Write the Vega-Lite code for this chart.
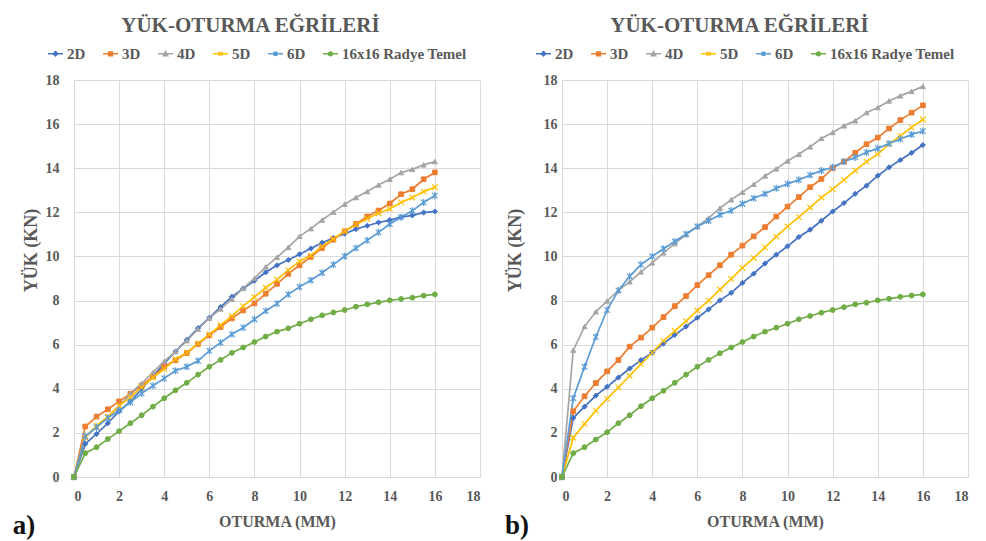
{
  "$schema": "https://vega.github.io/schema/vega-lite/v6.json",
  "background": "white",
  "padding": {"left": 12, "top": 15, "right": 5, "bottom": 0},
  "config": {
    "font": "Liberation Serif",
    "view": {"stroke": null},
    "axis": {
      "domainColor": "#d9d9d9",
      "gridColor": "#d9d9d9",
      "gridWidth": 1,
      "ticks": false,
      "labelFont": "Liberation Serif",
      "labelFontSize": 14,
      "labelFontWeight": "bold",
      "labelColor": "#595959",
      "titleFont": "Liberation Serif",
      "titleFontSize": 16,
      "titleFontWeight": "bold",
      "titleColor": "#595959"
    },
    "legend": {"labelFont": "Liberation Serif"},
    "title": {
      "font": "Liberation Serif",
      "fontSize": 21,
      "fontWeight": "bold",
      "color": "#595959",
      "anchor": "middle",
      "frame": "bounds",
      "offset": 9
    }
  },
  "data": {"values": [
    {"p":"a","s":"2D","x":0,"y":0},{"p":"a","s":"2D","x":0.5,"y":1.5},{"p":"a","s":"2D","x":1,"y":1.95},{"p":"a","s":"2D","x":1.5,"y":2.44},{"p":"a","s":"2D","x":2,"y":2.98},{"p":"a","s":"2D","x":2.5,"y":3.43},{"p":"a","s":"2D","x":3,"y":3.99},{"p":"a","s":"2D","x":3.5,"y":4.56},{"p":"a","s":"2D","x":4,"y":5.15},{"p":"a","s":"2D","x":4.5,"y":5.69},{"p":"a","s":"2D","x":5,"y":6.22},{"p":"a","s":"2D","x":5.5,"y":6.75},{"p":"a","s":"2D","x":6,"y":7.22},{"p":"a","s":"2D","x":6.5,"y":7.71},{"p":"a","s":"2D","x":7,"y":8.17},{"p":"a","s":"2D","x":7.5,"y":8.55},{"p":"a","s":"2D","x":8,"y":8.9},{"p":"a","s":"2D","x":8.5,"y":9.28},{"p":"a","s":"2D","x":9,"y":9.6},{"p":"a","s":"2D","x":9.5,"y":9.84},{"p":"a","s":"2D","x":10,"y":10.1},{"p":"a","s":"2D","x":10.5,"y":10.36},{"p":"a","s":"2D","x":11,"y":10.62},{"p":"a","s":"2D","x":11.5,"y":10.84},{"p":"a","s":"2D","x":12,"y":11.03},{"p":"a","s":"2D","x":12.5,"y":11.24},{"p":"a","s":"2D","x":13,"y":11.39},{"p":"a","s":"2D","x":13.5,"y":11.54},{"p":"a","s":"2D","x":14,"y":11.65},{"p":"a","s":"2D","x":14.5,"y":11.78},{"p":"a","s":"2D","x":15,"y":11.86},{"p":"a","s":"2D","x":15.5,"y":11.99},{"p":"a","s":"2D","x":16,"y":12.04},
    {"p":"a","s":"3D","x":0,"y":0},{"p":"a","s":"3D","x":0.5,"y":2.29},{"p":"a","s":"3D","x":1,"y":2.74},{"p":"a","s":"3D","x":1.5,"y":3.07},{"p":"a","s":"3D","x":2,"y":3.43},{"p":"a","s":"3D","x":2.5,"y":3.78},{"p":"a","s":"3D","x":3,"y":4.15},{"p":"a","s":"3D","x":3.5,"y":4.55},{"p":"a","s":"3D","x":4,"y":5.0},{"p":"a","s":"3D","x":4.5,"y":5.29},{"p":"a","s":"3D","x":5,"y":5.62},{"p":"a","s":"3D","x":5.5,"y":6.03},{"p":"a","s":"3D","x":6,"y":6.42},{"p":"a","s":"3D","x":6.5,"y":6.8},{"p":"a","s":"3D","x":7,"y":7.19},{"p":"a","s":"3D","x":7.5,"y":7.55},{"p":"a","s":"3D","x":8,"y":7.87},{"p":"a","s":"3D","x":8.5,"y":8.31},{"p":"a","s":"3D","x":9,"y":8.76},{"p":"a","s":"3D","x":9.5,"y":9.21},{"p":"a","s":"3D","x":10,"y":9.6},{"p":"a","s":"3D","x":10.5,"y":9.98},{"p":"a","s":"3D","x":11,"y":10.38},{"p":"a","s":"3D","x":11.5,"y":10.76},{"p":"a","s":"3D","x":12,"y":11.14},{"p":"a","s":"3D","x":12.5,"y":11.47},{"p":"a","s":"3D","x":13,"y":11.81},{"p":"a","s":"3D","x":13.5,"y":12.08},{"p":"a","s":"3D","x":14,"y":12.4},{"p":"a","s":"3D","x":14.5,"y":12.82},{"p":"a","s":"3D","x":15,"y":13.05},{"p":"a","s":"3D","x":15.5,"y":13.5},{"p":"a","s":"3D","x":16,"y":13.81},
    {"p":"a","s":"4D","x":0,"y":0},{"p":"a","s":"4D","x":0.5,"y":1.81},{"p":"a","s":"4D","x":1,"y":2.26},{"p":"a","s":"4D","x":1.5,"y":2.68},{"p":"a","s":"4D","x":2,"y":3.19},{"p":"a","s":"4D","x":2.5,"y":3.79},{"p":"a","s":"4D","x":3,"y":4.24},{"p":"a","s":"4D","x":3.5,"y":4.74},{"p":"a","s":"4D","x":4,"y":5.24},{"p":"a","s":"4D","x":4.5,"y":5.69},{"p":"a","s":"4D","x":5,"y":6.18},{"p":"a","s":"4D","x":5.5,"y":6.7},{"p":"a","s":"4D","x":6,"y":7.2},{"p":"a","s":"4D","x":6.5,"y":7.62},{"p":"a","s":"4D","x":7,"y":8.06},{"p":"a","s":"4D","x":7.5,"y":8.55},{"p":"a","s":"4D","x":8,"y":9.0},{"p":"a","s":"4D","x":8.5,"y":9.53},{"p":"a","s":"4D","x":9,"y":9.96},{"p":"a","s":"4D","x":9.5,"y":10.41},{"p":"a","s":"4D","x":10,"y":10.91},{"p":"a","s":"4D","x":10.5,"y":11.26},{"p":"a","s":"4D","x":11,"y":11.65},{"p":"a","s":"4D","x":11.5,"y":12.01},{"p":"a","s":"4D","x":12,"y":12.37},{"p":"a","s":"4D","x":12.5,"y":12.67},{"p":"a","s":"4D","x":13,"y":12.94},{"p":"a","s":"4D","x":13.5,"y":13.24},{"p":"a","s":"4D","x":14,"y":13.5},{"p":"a","s":"4D","x":14.5,"y":13.8},{"p":"a","s":"4D","x":15,"y":13.95},{"p":"a","s":"4D","x":15.5,"y":14.15},{"p":"a","s":"4D","x":16,"y":14.3},
    {"p":"a","s":"5D","x":0,"y":0},{"p":"a","s":"5D","x":0.5,"y":1.8},{"p":"a","s":"5D","x":1,"y":2.33},{"p":"a","s":"5D","x":1.5,"y":2.74},{"p":"a","s":"5D","x":2,"y":3.24},{"p":"a","s":"5D","x":2.5,"y":3.61},{"p":"a","s":"5D","x":3,"y":4.06},{"p":"a","s":"5D","x":3.5,"y":4.51},{"p":"a","s":"5D","x":4,"y":4.89},{"p":"a","s":"5D","x":4.5,"y":5.34},{"p":"a","s":"5D","x":5,"y":5.64},{"p":"a","s":"5D","x":5.5,"y":6.06},{"p":"a","s":"5D","x":6,"y":6.47},{"p":"a","s":"5D","x":6.5,"y":6.89},{"p":"a","s":"5D","x":7,"y":7.3},{"p":"a","s":"5D","x":7.5,"y":7.75},{"p":"a","s":"5D","x":8,"y":8.16},{"p":"a","s":"5D","x":8.5,"y":8.58},{"p":"a","s":"5D","x":9,"y":8.95},{"p":"a","s":"5D","x":9.5,"y":9.38},{"p":"a","s":"5D","x":10,"y":9.78},{"p":"a","s":"5D","x":10.5,"y":10.05},{"p":"a","s":"5D","x":11,"y":10.46},{"p":"a","s":"5D","x":11.5,"y":10.8},{"p":"a","s":"5D","x":12,"y":11.14},{"p":"a","s":"5D","x":12.5,"y":11.44},{"p":"a","s":"5D","x":13,"y":11.71},{"p":"a","s":"5D","x":13.5,"y":11.96},{"p":"a","s":"5D","x":14,"y":12.16},{"p":"a","s":"5D","x":14.5,"y":12.45},{"p":"a","s":"5D","x":15,"y":12.67},{"p":"a","s":"5D","x":15.5,"y":12.94},{"p":"a","s":"5D","x":16,"y":13.14},
    {"p":"a","s":"6D","x":0,"y":0},{"p":"a","s":"6D","x":0.5,"y":1.84},{"p":"a","s":"6D","x":1,"y":2.26},{"p":"a","s":"6D","x":1.5,"y":2.68},{"p":"a","s":"6D","x":2,"y":3.01},{"p":"a","s":"6D","x":2.5,"y":3.39},{"p":"a","s":"6D","x":3,"y":3.79},{"p":"a","s":"6D","x":3.5,"y":4.14},{"p":"a","s":"6D","x":4,"y":4.47},{"p":"a","s":"6D","x":4.5,"y":4.82},{"p":"a","s":"6D","x":5,"y":5.0},{"p":"a","s":"6D","x":5.5,"y":5.27},{"p":"a","s":"6D","x":6,"y":5.72},{"p":"a","s":"6D","x":6.5,"y":6.09},{"p":"a","s":"6D","x":7,"y":6.47},{"p":"a","s":"6D","x":7.5,"y":6.77},{"p":"a","s":"6D","x":8,"y":7.15},{"p":"a","s":"6D","x":8.5,"y":7.53},{"p":"a","s":"6D","x":9,"y":7.86},{"p":"a","s":"6D","x":9.5,"y":8.28},{"p":"a","s":"6D","x":10,"y":8.62},{"p":"a","s":"6D","x":10.5,"y":8.92},{"p":"a","s":"6D","x":11,"y":9.26},{"p":"a","s":"6D","x":11.5,"y":9.63},{"p":"a","s":"6D","x":12,"y":10.01},{"p":"a","s":"6D","x":12.5,"y":10.38},{"p":"a","s":"6D","x":13,"y":10.73},{"p":"a","s":"6D","x":13.5,"y":11.09},{"p":"a","s":"6D","x":14,"y":11.47},{"p":"a","s":"6D","x":14.5,"y":11.78},{"p":"a","s":"6D","x":15,"y":12.07},{"p":"a","s":"6D","x":15.5,"y":12.45},{"p":"a","s":"6D","x":16,"y":12.76},
    {"p":"a","s":"16x16 Radye Temel","x":0,"y":0},{"p":"a","s":"16x16 Radye Temel","x":0.5,"y":1.08},{"p":"a","s":"16x16 Radye Temel","x":1,"y":1.35},{"p":"a","s":"16x16 Radye Temel","x":1.5,"y":1.72},{"p":"a","s":"16x16 Radye Temel","x":2,"y":2.08},{"p":"a","s":"16x16 Radye Temel","x":2.5,"y":2.44},{"p":"a","s":"16x16 Radye Temel","x":3,"y":2.8},{"p":"a","s":"16x16 Radye Temel","x":3.5,"y":3.19},{"p":"a","s":"16x16 Radye Temel","x":4,"y":3.57},{"p":"a","s":"16x16 Radye Temel","x":4.5,"y":3.93},{"p":"a","s":"16x16 Radye Temel","x":5,"y":4.27},{"p":"a","s":"16x16 Radye Temel","x":5.5,"y":4.64},{"p":"a","s":"16x16 Radye Temel","x":6,"y":5.0},{"p":"a","s":"16x16 Radye Temel","x":6.5,"y":5.31},{"p":"a","s":"16x16 Radye Temel","x":7,"y":5.63},{"p":"a","s":"16x16 Radye Temel","x":7.5,"y":5.87},{"p":"a","s":"16x16 Radye Temel","x":8,"y":6.12},{"p":"a","s":"16x16 Radye Temel","x":8.5,"y":6.37},{"p":"a","s":"16x16 Radye Temel","x":9,"y":6.59},{"p":"a","s":"16x16 Radye Temel","x":9.5,"y":6.74},{"p":"a","s":"16x16 Radye Temel","x":10,"y":6.95},{"p":"a","s":"16x16 Radye Temel","x":10.5,"y":7.15},{"p":"a","s":"16x16 Radye Temel","x":11,"y":7.33},{"p":"a","s":"16x16 Radye Temel","x":11.5,"y":7.46},{"p":"a","s":"16x16 Radye Temel","x":12,"y":7.57},{"p":"a","s":"16x16 Radye Temel","x":12.5,"y":7.72},{"p":"a","s":"16x16 Radye Temel","x":13,"y":7.83},{"p":"a","s":"16x16 Radye Temel","x":13.5,"y":7.92},{"p":"a","s":"16x16 Radye Temel","x":14,"y":8.01},{"p":"a","s":"16x16 Radye Temel","x":14.5,"y":8.07},{"p":"a","s":"16x16 Radye Temel","x":15,"y":8.13},{"p":"a","s":"16x16 Radye Temel","x":15.5,"y":8.22},{"p":"a","s":"16x16 Radye Temel","x":16,"y":8.28},
    {"p":"b","s":"2D","x":0,"y":0},{"p":"b","s":"2D","x":0.5,"y":2.68},{"p":"b","s":"2D","x":1,"y":3.19},{"p":"b","s":"2D","x":1.5,"y":3.69},{"p":"b","s":"2D","x":2,"y":4.09},{"p":"b","s":"2D","x":2.5,"y":4.51},{"p":"b","s":"2D","x":3,"y":4.92},{"p":"b","s":"2D","x":3.5,"y":5.3},{"p":"b","s":"2D","x":4,"y":5.64},{"p":"b","s":"2D","x":4.5,"y":6.05},{"p":"b","s":"2D","x":5,"y":6.44},{"p":"b","s":"2D","x":5.5,"y":6.82},{"p":"b","s":"2D","x":6,"y":7.22},{"p":"b","s":"2D","x":6.5,"y":7.6},{"p":"b","s":"2D","x":7,"y":8.01},{"p":"b","s":"2D","x":7.5,"y":8.35},{"p":"b","s":"2D","x":8,"y":8.8},{"p":"b","s":"2D","x":8.5,"y":9.22},{"p":"b","s":"2D","x":9,"y":9.68},{"p":"b","s":"2D","x":9.5,"y":10.08},{"p":"b","s":"2D","x":10,"y":10.46},{"p":"b","s":"2D","x":10.5,"y":10.88},{"p":"b","s":"2D","x":11,"y":11.21},{"p":"b","s":"2D","x":11.5,"y":11.62},{"p":"b","s":"2D","x":12,"y":12.04},{"p":"b","s":"2D","x":12.5,"y":12.42},{"p":"b","s":"2D","x":13,"y":12.84},{"p":"b","s":"2D","x":13.5,"y":13.21},{"p":"b","s":"2D","x":14,"y":13.66},{"p":"b","s":"2D","x":14.5,"y":14.04},{"p":"b","s":"2D","x":15,"y":14.37},{"p":"b","s":"2D","x":15.5,"y":14.7},{"p":"b","s":"2D","x":16,"y":15.05},
    {"p":"b","s":"3D","x":0,"y":0},{"p":"b","s":"3D","x":0.5,"y":2.98},{"p":"b","s":"3D","x":1,"y":3.66},{"p":"b","s":"3D","x":1.5,"y":4.26},{"p":"b","s":"3D","x":2,"y":4.79},{"p":"b","s":"3D","x":2.5,"y":5.3},{"p":"b","s":"3D","x":3,"y":5.91},{"p":"b","s":"3D","x":3.5,"y":6.32},{"p":"b","s":"3D","x":4,"y":6.77},{"p":"b","s":"3D","x":4.5,"y":7.25},{"p":"b","s":"3D","x":5,"y":7.75},{"p":"b","s":"3D","x":5.5,"y":8.2},{"p":"b","s":"3D","x":6,"y":8.7},{"p":"b","s":"3D","x":6.5,"y":9.15},{"p":"b","s":"3D","x":7,"y":9.6},{"p":"b","s":"3D","x":7.5,"y":10.08},{"p":"b","s":"3D","x":8,"y":10.49},{"p":"b","s":"3D","x":8.5,"y":10.91},{"p":"b","s":"3D","x":9,"y":11.33},{"p":"b","s":"3D","x":9.5,"y":11.81},{"p":"b","s":"3D","x":10,"y":12.26},{"p":"b","s":"3D","x":10.5,"y":12.69},{"p":"b","s":"3D","x":11,"y":13.14},{"p":"b","s":"3D","x":11.5,"y":13.51},{"p":"b","s":"3D","x":12,"y":14.0},{"p":"b","s":"3D","x":12.5,"y":14.3},{"p":"b","s":"3D","x":13,"y":14.7},{"p":"b","s":"3D","x":13.5,"y":15.09},{"p":"b","s":"3D","x":14,"y":15.39},{"p":"b","s":"3D","x":14.5,"y":15.8},{"p":"b","s":"3D","x":15,"y":16.18},{"p":"b","s":"3D","x":15.5,"y":16.52},{"p":"b","s":"3D","x":16,"y":16.85},
    {"p":"b","s":"4D","x":0,"y":0},{"p":"b","s":"4D","x":0.5,"y":5.75},{"p":"b","s":"4D","x":1,"y":6.82},{"p":"b","s":"4D","x":1.5,"y":7.49},{"p":"b","s":"4D","x":2,"y":7.98},{"p":"b","s":"4D","x":2.5,"y":8.46},{"p":"b","s":"4D","x":3,"y":8.85},{"p":"b","s":"4D","x":3.5,"y":9.3},{"p":"b","s":"4D","x":4,"y":9.71},{"p":"b","s":"4D","x":4.5,"y":10.16},{"p":"b","s":"4D","x":5,"y":10.58},{"p":"b","s":"4D","x":5.5,"y":10.99},{"p":"b","s":"4D","x":6,"y":11.36},{"p":"b","s":"4D","x":6.5,"y":11.74},{"p":"b","s":"4D","x":7,"y":12.19},{"p":"b","s":"4D","x":7.5,"y":12.57},{"p":"b","s":"4D","x":8,"y":12.91},{"p":"b","s":"4D","x":8.5,"y":13.27},{"p":"b","s":"4D","x":9,"y":13.65},{"p":"b","s":"4D","x":9.5,"y":13.97},{"p":"b","s":"4D","x":10,"y":14.33},{"p":"b","s":"4D","x":10.5,"y":14.63},{"p":"b","s":"4D","x":11,"y":14.97},{"p":"b","s":"4D","x":11.5,"y":15.35},{"p":"b","s":"4D","x":12,"y":15.62},{"p":"b","s":"4D","x":12.5,"y":15.92},{"p":"b","s":"4D","x":13,"y":16.15},{"p":"b","s":"4D","x":13.5,"y":16.52},{"p":"b","s":"4D","x":14,"y":16.75},{"p":"b","s":"4D","x":14.5,"y":17.05},{"p":"b","s":"4D","x":15,"y":17.28},{"p":"b","s":"4D","x":15.5,"y":17.49},{"p":"b","s":"4D","x":16,"y":17.71},
    {"p":"b","s":"5D","x":0,"y":0},{"p":"b","s":"5D","x":0.5,"y":1.78},{"p":"b","s":"5D","x":1,"y":2.41},{"p":"b","s":"5D","x":1.5,"y":3.01},{"p":"b","s":"5D","x":2,"y":3.54},{"p":"b","s":"5D","x":2.5,"y":4.06},{"p":"b","s":"5D","x":3,"y":4.59},{"p":"b","s":"5D","x":3.5,"y":5.12},{"p":"b","s":"5D","x":4,"y":5.64},{"p":"b","s":"5D","x":4.5,"y":6.17},{"p":"b","s":"5D","x":5,"y":6.62},{"p":"b","s":"5D","x":5.5,"y":7.07},{"p":"b","s":"5D","x":6,"y":7.55},{"p":"b","s":"5D","x":6.5,"y":8.0},{"p":"b","s":"5D","x":7,"y":8.5},{"p":"b","s":"5D","x":7.5,"y":8.98},{"p":"b","s":"5D","x":8,"y":9.48},{"p":"b","s":"5D","x":8.5,"y":9.93},{"p":"b","s":"5D","x":9,"y":10.41},{"p":"b","s":"5D","x":9.5,"y":10.9},{"p":"b","s":"5D","x":10,"y":11.36},{"p":"b","s":"5D","x":10.5,"y":11.78},{"p":"b","s":"5D","x":11,"y":12.22},{"p":"b","s":"5D","x":11.5,"y":12.67},{"p":"b","s":"5D","x":12,"y":13.05},{"p":"b","s":"5D","x":12.5,"y":13.47},{"p":"b","s":"5D","x":13,"y":13.89},{"p":"b","s":"5D","x":13.5,"y":14.3},{"p":"b","s":"5D","x":14,"y":14.64},{"p":"b","s":"5D","x":14.5,"y":15.09},{"p":"b","s":"5D","x":15,"y":15.47},{"p":"b","s":"5D","x":15.5,"y":15.85},{"p":"b","s":"5D","x":16,"y":16.21},
    {"p":"b","s":"6D","x":0,"y":0},{"p":"b","s":"6D","x":0.5,"y":3.57},{"p":"b","s":"6D","x":1,"y":5.0},{"p":"b","s":"6D","x":1.5,"y":6.35},{"p":"b","s":"6D","x":2,"y":7.57},{"p":"b","s":"6D","x":2.5,"y":8.46},{"p":"b","s":"6D","x":3,"y":9.1},{"p":"b","s":"6D","x":3.5,"y":9.63},{"p":"b","s":"6D","x":4,"y":10.0},{"p":"b","s":"6D","x":4.5,"y":10.35},{"p":"b","s":"6D","x":5,"y":10.68},{"p":"b","s":"6D","x":5.5,"y":11.02},{"p":"b","s":"6D","x":6,"y":11.36},{"p":"b","s":"6D","x":6.5,"y":11.62},{"p":"b","s":"6D","x":7,"y":11.89},{"p":"b","s":"6D","x":7.5,"y":12.08},{"p":"b","s":"6D","x":8,"y":12.39},{"p":"b","s":"6D","x":8.5,"y":12.64},{"p":"b","s":"6D","x":9,"y":12.84},{"p":"b","s":"6D","x":9.5,"y":13.09},{"p":"b","s":"6D","x":10,"y":13.29},{"p":"b","s":"6D","x":10.5,"y":13.47},{"p":"b","s":"6D","x":11,"y":13.69},{"p":"b","s":"6D","x":11.5,"y":13.89},{"p":"b","s":"6D","x":12,"y":14.04},{"p":"b","s":"6D","x":12.5,"y":14.3},{"p":"b","s":"6D","x":13,"y":14.49},{"p":"b","s":"6D","x":13.5,"y":14.72},{"p":"b","s":"6D","x":14,"y":14.9},{"p":"b","s":"6D","x":14.5,"y":15.12},{"p":"b","s":"6D","x":15,"y":15.32},{"p":"b","s":"6D","x":15.5,"y":15.53},{"p":"b","s":"6D","x":16,"y":15.68},
    {"p":"b","s":"16x16 Radye Temel","x":0,"y":0},{"p":"b","s":"16x16 Radye Temel","x":0.5,"y":1.08},{"p":"b","s":"16x16 Radye Temel","x":1,"y":1.35},{"p":"b","s":"16x16 Radye Temel","x":1.5,"y":1.7},{"p":"b","s":"16x16 Radye Temel","x":2,"y":2.03},{"p":"b","s":"16x16 Radye Temel","x":2.5,"y":2.44},{"p":"b","s":"16x16 Radye Temel","x":3,"y":2.8},{"p":"b","s":"16x16 Radye Temel","x":3.5,"y":3.21},{"p":"b","s":"16x16 Radye Temel","x":4,"y":3.57},{"p":"b","s":"16x16 Radye Temel","x":4.5,"y":3.91},{"p":"b","s":"16x16 Radye Temel","x":5,"y":4.27},{"p":"b","s":"16x16 Radye Temel","x":5.5,"y":4.64},{"p":"b","s":"16x16 Radye Temel","x":6,"y":5.0},{"p":"b","s":"16x16 Radye Temel","x":6.5,"y":5.31},{"p":"b","s":"16x16 Radye Temel","x":7,"y":5.61},{"p":"b","s":"16x16 Radye Temel","x":7.5,"y":5.87},{"p":"b","s":"16x16 Radye Temel","x":8,"y":6.12},{"p":"b","s":"16x16 Radye Temel","x":8.5,"y":6.37},{"p":"b","s":"16x16 Radye Temel","x":9,"y":6.59},{"p":"b","s":"16x16 Radye Temel","x":9.5,"y":6.77},{"p":"b","s":"16x16 Radye Temel","x":10,"y":6.95},{"p":"b","s":"16x16 Radye Temel","x":10.5,"y":7.15},{"p":"b","s":"16x16 Radye Temel","x":11,"y":7.3},{"p":"b","s":"16x16 Radye Temel","x":11.5,"y":7.45},{"p":"b","s":"16x16 Radye Temel","x":12,"y":7.57},{"p":"b","s":"16x16 Radye Temel","x":12.5,"y":7.7},{"p":"b","s":"16x16 Radye Temel","x":13,"y":7.83},{"p":"b","s":"16x16 Radye Temel","x":13.5,"y":7.9},{"p":"b","s":"16x16 Radye Temel","x":14,"y":8.01},{"p":"b","s":"16x16 Radye Temel","x":14.5,"y":8.08},{"p":"b","s":"16x16 Radye Temel","x":15,"y":8.17},{"p":"b","s":"16x16 Radye Temel","x":15.5,"y":8.23},{"p":"b","s":"16x16 Radye Temel","x":16,"y":8.28}
  ]},
  "bounds": "flush",
  "spacing": 82,
  "resolve": {"scale": {"color": "independent"}, "legend": {"color": "independent"}},
  "hconcat": [
    {
      "width": 406,
      "height": 397,
      "title": {"text": "YÜK-OTURMA EĞRİLERİ", "dx": 4},
      "layer": [
        {
          "transform": [{"filter": "datum.p === 'a'"}],
          "encoding": {
            "x": {"field": "x", "type": "quantitative", "scale": {"domain": [0, 18], "nice": false}, "axis": {"values": [0,2,4,6,8,10,12,14,16,18], "title": "OTURMA (MM)", "labelPadding": 12, "titleY": 49, "titleBaseline": "alphabetic"}},
            "y": {"field": "y", "type": "quantitative", "scale": {"domain": [0, 18], "nice": false}, "axis": {"values": [0,2,4,6,8,10,12,14,16,18], "title": "YÜK (KN)", "labelPadding": 15, "titleX": -38, "titleY": 170, "titleBaseline": "alphabetic", "titleAngle": -90, "titleFontSize": 18}}
          },
          "layer": [
            {
              "mark": {"type": "line", "strokeWidth": 1.7},
              "encoding": {
                "color": {"field": "s", "type": "nominal", "scale": {"domain": ["2D","3D","4D","5D","6D","16x16 Radye Temel"], "range": ["#4472C4","#ED7D31","#A5A5A5","#FFC000","#5B9BD5","#70AD47"]},
                  "legend": {"orient": "none", "legendX": -27, "legendY": -35, "direction": "horizontal", "title": null, "padding": 0, "symbolType": "stroke", "symbolSize": 225, "symbolStrokeWidth": 1.5, "labelOffset": 3, "columnPadding": 14, "labelFontSize": 15, "labelFontWeight": "bold", "labelColor": "#595959",
                    "encode": {"symbols": {"update": {
                      "shape": {"signal": "datum.value==='2D'?'M-1,0H1M-0.3,0L0,-0.3L0.3,0L0,0.3Z':datum.value==='3D'?'M-1,0H1M-0.25,-0.25H0.25V0.25H-0.25Z':datum.value==='4D'?'M-1,0H1M-0.3,0.25L0,-0.3L0.3,0.25Z':datum.value==='5D'?'M-1,0H1M-0.25,-0.25L0.25,0.25M-0.25,0.25L0.25,-0.25':datum.value==='6D'?'M-1,0H1M-0.25,-0.25L0.25,0.25M-0.25,0.25L0.25,-0.25M0,-0.3V0.3':'M-1,0H1M0.25,0A0.25,0.25,0,1,1,-0.25,0A0.25,0.25,0,1,1,0.25,0Z'"},
                      "fill": {"signal": "datum.value==='2D'?'#4472C4':datum.value==='3D'?'#ED7D31':datum.value==='4D'?'#A5A5A5':datum.value==='5D'?'#FFC000':datum.value==='6D'?'#5B9BD5':'#70AD47'"}
                    }}}
                  }}
              }
            },
            {"transform": [{"filter": "datum.s === '2D'"}], "mark": {"type": "point", "shape": "diamond", "filled": true, "size": 26, "fill": "#4472C4", "stroke": "#4472C4", "strokeWidth": 1, "opacity": 1}},
            {"transform": [{"filter": "datum.s === '3D'"}], "mark": {"type": "point", "shape": "square", "filled": true, "size": 22, "fill": "#ED7D31", "stroke": "#ED7D31", "strokeWidth": 1, "opacity": 1}},
            {"transform": [{"filter": "datum.s === '4D'"}], "mark": {"type": "point", "shape": "triangle-up", "filled": true, "size": 26, "fill": "#A5A5A5", "stroke": "#A5A5A5", "strokeWidth": 1, "opacity": 1}},
            {"transform": [{"filter": "datum.s === '5D'"}], "mark": {"type": "point", "shape": "M-1,-1L1,1M-1,1L1,-1", "filled": false, "size": 30, "stroke": "#FFC000", "strokeWidth": 1.2, "opacity": 1}},
            {"transform": [{"filter": "datum.s === '6D'"}], "mark": {"type": "point", "shape": "M-1,-1L1,1M-1,1L1,-1M0,-1.3L0,1.3", "filled": false, "size": 30, "stroke": "#5B9BD5", "strokeWidth": 1.2, "opacity": 1}},
            {"transform": [{"filter": "datum.s === '16x16 Radye Temel'"}], "mark": {"type": "point", "shape": "circle", "filled": true, "size": 24, "fill": "#70AD47", "stroke": "#70AD47", "strokeWidth": 1, "opacity": 1}}
          ]
        },
        {
          "data": {"values": [{"t": "a)"}]},
          "mark": {"type": "text", "align": "left", "baseline": "alphabetic", "font": "Liberation Serif", "fontSize": 27, "fontWeight": "bold", "color": "#111111"},
          "encoding": {
            "x": {"datum": -2.71, "type": "quantitative", "scale": {"domain": [0, 18], "nice": false}},
            "y": {"datum": -2.6, "type": "quantitative", "scale": {"domain": [0, 18], "nice": false}},
            "text": {"field": "t"}
          }
        }
      ]
    },
    {
      "width": 406,
      "height": 397,
      "title": {"text": "YÜK-OTURMA EĞRİLERİ", "dx": 3},
      "layer": [
        {
          "transform": [{"filter": "datum.p === 'b'"}],
          "encoding": {
            "x": {"field": "x", "type": "quantitative", "scale": {"domain": [0, 18], "nice": false}, "axis": {"values": [0,2,4,6,8,10,12,14,16,18], "title": "OTURMA (MM)", "labelPadding": 12, "titleY": 49, "titleBaseline": "alphabetic"}},
            "y": {"field": "y", "type": "quantitative", "scale": {"domain": [0, 18], "nice": false}, "axis": {"values": [0,2,4,6,8,10,12,14,16,18], "title": "YÜK (KN)", "labelPadding": 5, "titleX": -42, "titleY": 170, "titleBaseline": "alphabetic", "titleAngle": -90, "titleFontSize": 18}}
          },
          "layer": [
            {
              "mark": {"type": "line", "strokeWidth": 1.7},
              "encoding": {
                "color": {"field": "s", "type": "nominal", "scale": {"domain": ["2D","3D","4D","5D","6D","16x16 Radye Temel"], "range": ["#4472C4","#ED7D31","#A5A5A5","#FFC000","#5B9BD5","#70AD47"]},
                  "legend": {"orient": "none", "legendX": -27, "legendY": -35, "direction": "horizontal", "title": null, "padding": 0, "symbolType": "stroke", "symbolSize": 225, "symbolStrokeWidth": 1.5, "labelOffset": 3, "columnPadding": 14, "labelFontSize": 15, "labelFontWeight": "bold", "labelColor": "#595959",
                    "encode": {"symbols": {"update": {
                      "shape": {"signal": "datum.value==='2D'?'M-1,0H1M-0.3,0L0,-0.3L0.3,0L0,0.3Z':datum.value==='3D'?'M-1,0H1M-0.25,-0.25H0.25V0.25H-0.25Z':datum.value==='4D'?'M-1,0H1M-0.3,0.25L0,-0.3L0.3,0.25Z':datum.value==='5D'?'M-1,0H1M-0.25,-0.25L0.25,0.25M-0.25,0.25L0.25,-0.25':datum.value==='6D'?'M-1,0H1M-0.25,-0.25L0.25,0.25M-0.25,0.25L0.25,-0.25M0,-0.3V0.3':'M-1,0H1M0.25,0A0.25,0.25,0,1,1,-0.25,0A0.25,0.25,0,1,1,0.25,0Z'"},
                      "fill": {"signal": "datum.value==='2D'?'#4472C4':datum.value==='3D'?'#ED7D31':datum.value==='4D'?'#A5A5A5':datum.value==='5D'?'#FFC000':datum.value==='6D'?'#5B9BD5':'#70AD47'"}
                    }}}
                  }}
              }
            },
            {"transform": [{"filter": "datum.s === '2D'"}], "mark": {"type": "point", "shape": "diamond", "filled": true, "size": 26, "fill": "#4472C4", "stroke": "#4472C4", "strokeWidth": 1, "opacity": 1}},
            {"transform": [{"filter": "datum.s === '3D'"}], "mark": {"type": "point", "shape": "square", "filled": true, "size": 22, "fill": "#ED7D31", "stroke": "#ED7D31", "strokeWidth": 1, "opacity": 1}},
            {"transform": [{"filter": "datum.s === '4D'"}], "mark": {"type": "point", "shape": "triangle-up", "filled": true, "size": 26, "fill": "#A5A5A5", "stroke": "#A5A5A5", "strokeWidth": 1, "opacity": 1}},
            {"transform": [{"filter": "datum.s === '5D'"}], "mark": {"type": "point", "shape": "M-1,-1L1,1M-1,1L1,-1", "filled": false, "size": 30, "stroke": "#FFC000", "strokeWidth": 1.2, "opacity": 1}},
            {"transform": [{"filter": "datum.s === '6D'"}], "mark": {"type": "point", "shape": "M-1,-1L1,1M-1,1L1,-1M0,-1.3L0,1.3", "filled": false, "size": 30, "stroke": "#5B9BD5", "strokeWidth": 1.2, "opacity": 1}},
            {"transform": [{"filter": "datum.s === '16x16 Radye Temel'"}], "mark": {"type": "point", "shape": "circle", "filled": true, "size": 24, "fill": "#70AD47", "stroke": "#70AD47", "strokeWidth": 1, "opacity": 1}}
          ]
        },
        {
          "data": {"values": [{"t": "b)"}]},
          "mark": {"type": "text", "align": "left", "baseline": "alphabetic", "font": "Liberation Serif", "fontSize": 27, "fontWeight": "bold", "color": "#111111"},
          "encoding": {
            "x": {"datum": -2.53, "type": "quantitative", "scale": {"domain": [0, 18], "nice": false}},
            "y": {"datum": -2.6, "type": "quantitative", "scale": {"domain": [0, 18], "nice": false}},
            "text": {"field": "t"}
          }
        }
      ]
    }
  ]
}
